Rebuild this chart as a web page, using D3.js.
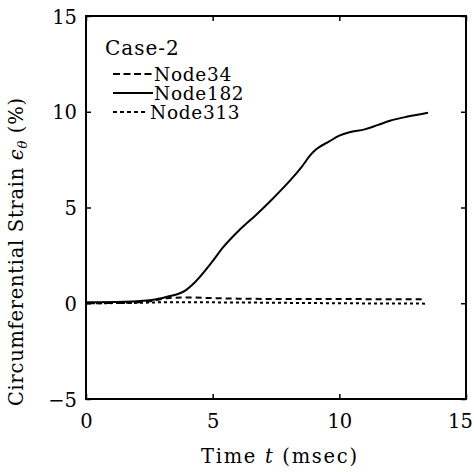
<!DOCTYPE html>
<html><head><meta charset="utf-8">
<script src="https://cdn.jsdelivr.net/npm/d3@7"></script>
<style>body{margin:0;background:#fff}svg{display:block}</style>
</head><body>
<script>
const xTicks = [0, 5, 10, 15];
const yTicks = [-5, 0, 5, 10, 15];
const timeNode182 = [0, 1.5, 2.6, 3.2, 3.9, 4.3, 5.0, 5.4, 6.0, 6.7, 7.4, 8.05, 8.5, 8.9, 9.1, 9.6, 10.0, 10.4, 11.0, 11.5, 12.0, 12.7, 13.5];
const strainNode182 = [0.05, 0.08, 0.17, 0.34, 0.65, 1.1, 2.2, 2.9, 3.75, 4.6, 5.5, 6.4, 7.1, 7.8, 8.05, 8.45, 8.75, 8.93, 9.08, 9.3, 9.53, 9.75, 9.95];
const timeNode34 = [0, 1.5, 2.5, 3.3, 4.0, 5.0, 6.0, 8.0, 10.0, 12.0, 13.4];
const strainNode34 = [0.0, 0.02, 0.1, 0.28, 0.3, 0.27, 0.24, 0.22, 0.22, 0.21, 0.21];
const timeNode313 = [0, 2.0, 3.0, 4.0, 6.0, 8.0, 10.0, 13.4];
const strainNode313 = [0.0, 0.02, 0.05, 0.05, 0.04, 0.02, 0.0, -0.02];
const legendTitle = "Case-2";
const seriesNames = ["Node34", "Node182", "Node313"];

const W = 474, H = 472;
const FONT = "DejaVu Serif";
const svg = d3.select("body").append("svg").attr("width", W).attr("height", H)
  .style("font-family", FONT);

const x = d3.scaleLinear().domain([0, 15]).range([86, 466]);
const y = d3.scaleLinear().domain([-5, 15]).range([399, 16]);

const fmt = d => d < 0 ? "\u2212" + Math.abs(d) : String(d);

// axes (inward ticks)
const gB = svg.append("g").attr("transform", `translate(0,${y(-5)})`)
  .call(d3.axisBottom(x).tickValues(xTicks).tickSize(-5).tickFormat(fmt));
const gT = svg.append("g").attr("transform", `translate(0,${y(15)})`)
  .call(d3.axisTop(x).tickValues(xTicks).tickSize(-5).tickFormat(""));
const gL = svg.append("g").attr("transform", `translate(${x(0)},0)`)
  .call(d3.axisLeft(y).tickValues(yTicks).tickSize(-5).tickFormat(fmt));
const gR = svg.append("g").attr("transform", `translate(${x(15)},0)`)
  .call(d3.axisRight(y).tickValues(yTicks).tickSize(-5).tickFormat(""));
[gB, gT, gL, gR].forEach(g => {
  g.select(".domain").remove();
  g.selectAll("line").attr("stroke", "#000").attr("stroke-width", 1.5);
  g.selectAll("text").attr("font-family", FONT).attr("font-size", 19.5).attr("fill", "#000");
});
gB.selectAll("text").attr("y", 29).attr("dy", null)
  .attr("x", d => d === 15 ? -6 : 0);
gL.selectAll("text").attr("x", -9).attr("dy", "0.36em");

// frame
svg.append("rect").attr("x", x(0)).attr("y", y(15))
  .attr("width", x(15) - x(0)).attr("height", y(-5) - y(15))
  .attr("fill", "none").attr("stroke", "#000").attr("stroke-width", 2);

const line = d3.line().x(d => x(d[0])).y(d => y(d[1])).curve(d3.curveMonotoneX);
const mk = (t, v) => t.map((d, i) => [d, v[i]]);
const styles = [
  {data: mk(timeNode34, strainNode34), dash: "6,4"},
  {data: mk(timeNode182, strainNode182), dash: null},
  {data: mk(timeNode313, strainNode313), dash: "3,3"}
];
styles.forEach(s => {
  svg.append("path").datum(s.data).attr("d", line)
    .attr("fill", "none").attr("stroke", "#000").attr("stroke-width", 2)
    .attr("stroke-dasharray", s.dash);
});

// legend
svg.append("text").attr("x", 105).attr("y", 55).attr("font-size", 20)
  .attr("letter-spacing", 1).text(legendTitle);
const legY = [81, 100, 119];
const legDash = ["7,3.5", null, "4,3"];
const legEnd = [153, 153, 145];
const legTextX = [154, 154, 150];
seriesNames.forEach((n, i) => {
  svg.append("line").attr("x1", 113).attr("x2", legEnd[i])
    .attr("y1", legY[i] - 7).attr("y2", legY[i] - 7)
    .attr("stroke", "#000").attr("stroke-width", 2).attr("stroke-dasharray", legDash[i]);
  svg.append("text").attr("x", legTextX[i]).attr("y", legY[i]).attr("font-size", 18.5)
    .attr("letter-spacing", 0.7).text(n);
});

// axis titles
const xt = svg.append("text").attr("x", 279).attr("y", 463).attr("text-anchor", "middle")
  .attr("font-size", 19.5).attr("textLength", 156).attr("lengthAdjust", "spacing");
xt.append("tspan").text("Time ");
xt.append("tspan").attr("font-style", "italic").text("t");
xt.append("tspan").text(" (msec)");

const yt = svg.append("text").attr("transform", "translate(23,252) rotate(-90)")
  .attr("text-anchor", "middle").attr("font-size", 19.5)
  .attr("textLength", 308).attr("lengthAdjust", "spacing");
yt.append("tspan").text("Circumferential Strain ");
yt.append("tspan").attr("font-style", "italic").text("\u03F5");
yt.append("tspan").attr("font-style", "italic").attr("font-size", 13).attr("dy", 4).text("\u03B8");
yt.append("tspan").attr("dy", -4).text(" (%)");
</script>
</body></html>
